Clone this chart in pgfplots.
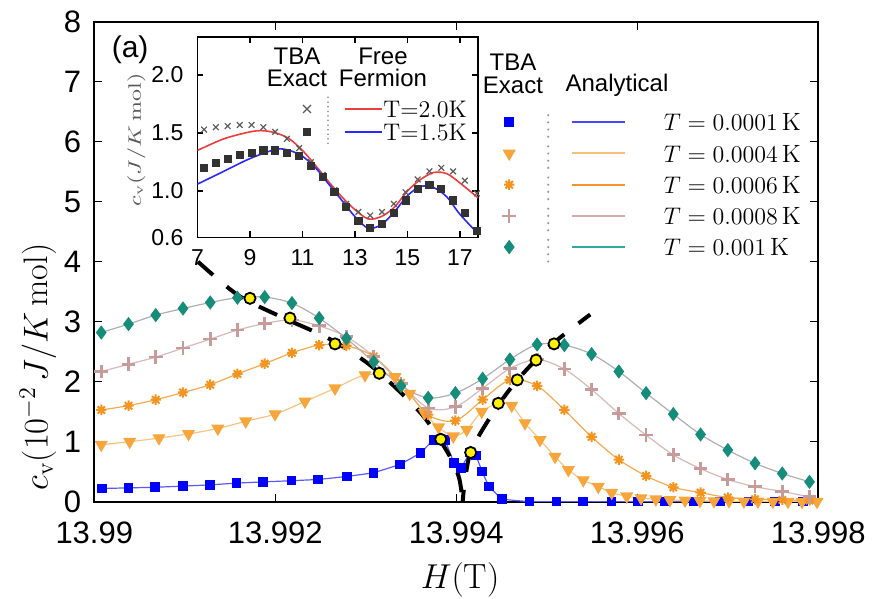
\documentclass[border=0pt]{standalone}
\usepackage{fontspec}
\setsansfont{Liberation Sans}
\usepackage{graphicx}
\usepackage{pgfplots}
\pgfplotsset{compat=1.18}

\definecolor{cblue}{RGB}{0,0,255}
\definecolor{cblueL}{RGB}{90,90,255}
\definecolor{ctri}{RGB}{247,166,60}
\definecolor{ctriL}{RGB}{250,195,130}
\definecolor{cstar}{RGB}{242,148,30}
\definecolor{cstarL}{RGB}{245,170,80}
\definecolor{cplus}{RGB}{200,155,155}
\definecolor{cplusL}{RGB}{215,185,185}
\definecolor{cteal}{RGB}{22,140,122}
\definecolor{ctealL}{RGB}{175,175,175}
\definecolor{lgblue}{RGB}{70,70,255}
\definecolor{lgtri}{RGB}{250,190,120}
\definecolor{lgstar}{RGB}{245,150,40}
\definecolor{lgplus}{RGB}{215,170,170}
\definecolor{lgteal}{RGB}{50,170,155}
\definecolor{ffred}{RGB}{240,60,60}
\definecolor{ffblue}{RGB}{40,40,255}
\definecolor{tbacross}{RGB}{90,90,90}
\definecolor{tbasq}{RGB}{50,50,50}

\pgfdeclareplotmark{xstar}{%
  \pgfpathmoveto{\pgfqpoint{-\pgfplotmarksize}{0pt}}\pgfpathlineto{\pgfqpoint{\pgfplotmarksize}{0pt}}%
  \pgfpathmoveto{\pgfqpoint{0pt}{-\pgfplotmarksize}}\pgfpathlineto{\pgfqpoint{0pt}{\pgfplotmarksize}}%
  \pgfpathmoveto{\pgfqpoint{-0.707\pgfplotmarksize}{-0.707\pgfplotmarksize}}\pgfpathlineto{\pgfqpoint{0.707\pgfplotmarksize}{0.707\pgfplotmarksize}}%
  \pgfpathmoveto{\pgfqpoint{-0.707\pgfplotmarksize}{0.707\pgfplotmarksize}}\pgfpathlineto{\pgfqpoint{0.707\pgfplotmarksize}{-0.707\pgfplotmarksize}}%
  \pgfusepathqstroke}

% legend images: #1 mark name, #2 mark style, #3 line colour
\pgfplotsset{
  mainleg/.style n args={3}{legend image code/.code={%
    \path (-4.2pt,-7.2pt) (58pt,7.2pt);
    \draw[gray!80, line width=1.2pt, line cap=round, dash pattern=on 0pt off 3.6pt] (19.5pt,-7.2pt) -- (19.5pt,7.2pt);
    \draw[#3, line width=1pt] (31.35pt,0pt) -- (58pt,0pt);
    \draw[#2, mark=#1] plot coordinates {(0pt,0pt)};}},
}

\begin{document}
\begin{tikzpicture}
% x values are (H - 13.99 T) in units of 10^-3 T
\begin{axis}[name=main, at={(0,0)}, anchor=south west, scale only axis,
  width=362pt, height=240pt, xmin=0, xmax=8, ymin=0, ymax=8,
  xtick={0,2,4,6,8}, xticklabels={13.99,13.992,13.994,13.996,13.998},
  ytick={0,1,...,8}, yticklabels={0,1,2,3,4,5,6,7,8},
  tick align=inside, major tick length=4pt,
  axis line style={line width=0.9pt}, every tick/.style={black, line width=0.7pt},
  ticklabel style={font=\sffamily\fontsize{15.5}{16}\selectfont},
  xticklabel style={yshift=-6.5pt}, yticklabel style={xshift=-3pt},
  legend style={at={(0.5604,0.8238)}, anchor=north west, draw=none, fill=none,
    inner xsep=0pt, inner ysep=0pt, row sep=0pt, column sep=18.85pt,
    nodes={inner sep=0pt, text height=8.6pt, text depth=0pt, font=\fontsize{12.5}{14}\selectfont},
    cells={anchor=west}},
]
% T = 0.0001 K
\addplot[cblueL, line width=0.6pt, mark=square*, mark size=2.1pt, mark options={cblue, solid}, forget plot] coordinates {
(0.082,0.22)(0.376,0.23)(0.671,0.24)(0.983,0.26)(1.278,0.28)(1.573,0.31)(1.867,0.33)(2.181,0.35)
(2.475,0.37)(2.789,0.42)(3.083,0.48)(3.378,0.62)(3.604,0.81)(3.746,1.03)(3.875,1.03)(3.975,0.64)
(4.052,0.56)(4.151,0.82)(4.218,0.77)(4.286,0.50)(4.361,0.25)(4.505,0.04)(4.807,0.0)(5.109,0.0)
(5.403,0.0)(5.717,0.0)(6.011,0.0)(6.306,0.0)(6.619,0.0)(6.914,0.0)(7.227,0.0)(7.522,0.0)(7.834,0.0)};
% T = 0.0004 K
\addplot[ctriL, line width=0.6pt, smooth, mark=triangle*, mark size=3.2pt, mark options={ctri, rotate=180, solid}, forget plot] coordinates {
(0.077,0.95)(0.391,1.00)(0.715,1.06)(1.041,1.13)(1.365,1.22)(1.673,1.34)(1.997,1.46)(2.328,1.67)
(2.660,1.89)(2.991,2.11)(3.323,2.08)(3.485,1.80)(3.647,1.48)(3.804,1.24)(3.967,1.09)(4.115,1.20)
(4.281,1.50)(4.464,1.64)(4.612,1.60)(4.759,1.31)(4.925,1.03)(5.091,0.75)(5.238,0.53)(5.403,0.36)
(5.569,0.25)(5.717,0.15)(5.883,0.09)(6.041,0.06)(6.205,0.04)(6.360,0.03)(6.527,0.02)(6.692,0.015)
(6.847,0.01)(7.013,0.01)(7.178,0.005)(7.333,0.005)(7.499,0.0)(7.665,0.0)(7.820,0.0)(7.986,0.0)};
% T = 0.0006 K
\addplot[cstarL, line width=0.6pt, smooth, mark=xstar, mark size=2.6pt, mark options={cstar, line width=1pt, solid}, forget plot] coordinates {
(0.077,1.53)(0.378,1.60)(0.679,1.70)(0.980,1.82)(1.281,1.95)(1.582,2.13)(1.883,2.30)(2.184,2.48)
(2.485,2.61)(2.786,2.60)(3.087,2.42)(3.388,1.98)(3.689,1.45)(3.990,1.35)(4.291,1.70)(4.592,2.03)
(4.893,1.93)(5.194,1.53)(5.495,1.08)(5.796,0.70)(6.097,0.43)(6.398,0.24)(6.699,0.15)(7.000,0.07)
(7.301,0.04)(7.602,0.03)(7.903,0.02)};
% T = 0.0008 K
\addplot[cplusL, line width=0.6pt, smooth, mark=+, mark size=3.4pt, mark options={cplus, line width=1.4pt, solid}, forget plot] coordinates {
(0.077,2.17)(0.378,2.29)(0.679,2.41)(0.980,2.56)(1.281,2.71)(1.582,2.86)(1.883,2.97)(2.184,3.03)
(2.485,2.93)(2.786,2.75)(3.087,2.42)(3.388,1.97)(3.689,1.56)(3.990,1.58)(4.291,1.89)(4.592,2.22)
(4.893,2.37)(5.194,2.21)(5.495,1.87)(5.796,1.47)(6.097,1.11)(6.398,0.78)(6.699,0.55)(7.000,0.37)
(7.301,0.25)(7.602,0.17)(7.903,0.08)};
% T = 0.001 K
\addplot[ctealL, line width=0.6pt, smooth, mark=diamond*, mark size=3.1pt, mark options={cteal, solid}, forget plot] coordinates {
(0.077,2.82)(0.378,2.96)(0.679,3.11)(0.980,3.22)(1.281,3.32)(1.582,3.40)(1.883,3.41)(2.184,3.31)
(2.485,3.06)(2.786,2.72)(3.087,2.33)(3.388,1.93)(3.689,1.73)(3.990,1.81)(4.291,2.05)(4.592,2.37)
(4.893,2.62)(5.194,2.61)(5.495,2.46)(5.796,2.17)(6.097,1.81)(6.398,1.46)(6.699,1.12)(7.000,0.86)
(7.301,0.64)(7.602,0.47)(7.903,0.33)};
% analytical divergence (dashed)
\addplot[black, line width=2pt, smooth, dash pattern=on 10pt off 9pt, forget plot] coordinates {
(1.146,4.00)(1.59,3.44)(2.08,3.07)(2.59,2.72)(3.01,2.32)(3.33,1.90)(3.65,1.40)(3.92,0.78)(4.03,0.40)(4.07,0.0)};
\addplot[black, line width=2pt, smooth, dash pattern=on 10pt off 9pt, dash phase=4pt, forget plot] coordinates {
(4.07,0.0)(4.10,0.40)(4.17,0.87)(4.41,1.49)(4.676,2.03)(5.04,2.60)(5.48,3.12)};
% crossover points
\addplot[only marks, mark=*, mark size=2.8pt, mark options={fill=yellow, draw=black, line width=0.9pt}, forget plot] coordinates {
(1.720,3.39)(2.162,3.06)(2.660,2.63)(3.149,2.14)(3.828,1.04)(4.159,0.82)(4.464,1.64)(4.674,2.03)(4.881,2.36)(5.080,2.63)};

\addlegendimage{mainleg={square*}{mark size=2.3pt, cblue}{lgblue}}
\addlegendentry{$T=0.0001\,\mathrm{K}$}
\addlegendimage{mainleg={triangle*}{mark size=3.4pt, ctri, mark options={rotate=180}}{lgtri}}
\addlegendentry{$T=0.0004\,\mathrm{K}$}
\addlegendimage{mainleg={xstar}{mark size=2.6pt, cstar, line width=1pt}{lgstar}}
\addlegendentry{$T=0.0006\,\mathrm{K}$}
\addlegendimage{mainleg={+}{mark size=3.4pt, cplus, line width=1.2pt}{lgplus}}
\addlegendentry{$T=0.0008\,\mathrm{K}$}
\addlegendimage{mainleg={diamond*}{mark size=3.3pt, cteal}{lgteal}}
\addlegendentry{$T=0.001\,\mathrm{K}$}
\end{axis}

% inset
\begin{axis}[name=inset, at={(51.6pt,132.1pt)}, anchor=south west, scale only axis,
  width=140.4pt, height=100.4pt, xmin=7, xmax=17.7, ymin=0.6, ymax=2.33,
  xtick={7,9,11,13,15,17}, xticklabels={7,9,11,13,15,17},
  ytick={0.6,1.0,1.5,2.0}, yticklabels={0.6,1.0,1.5,2.0},
  tick align=inside, major tick length=3pt,
  axis line style={line width=0.9pt}, every tick/.style={black, line width=0.6pt},
  ticklabel style={font=\sffamily\fontsize{11.5}{12}\selectfont},
  xticklabel style={yshift=-2.5pt}, yticklabel style={xshift=-3.5pt},
]
\addplot[only marks, mark=x, mark size=2pt, tbacross, line width=0.6pt] coordinates {
(7.25,1.53)(7.70,1.55)(8.15,1.56)(8.61,1.57)(9.06,1.57)(9.51,1.55)(9.96,1.51)(10.41,1.45)
(10.87,1.37)(11.32,1.25)(11.77,1.14)(12.22,1.01)(12.67,0.89)(13.13,0.82)(13.58,0.79)(14.03,0.82)
(14.48,0.89)(14.93,0.99)(15.39,1.10)(15.84,1.17)(16.29,1.20)(16.74,1.17)(17.19,1.09)(17.65,0.98)};
\addplot[only marks, mark=square*, mark size=1.8pt, tbasq] coordinates {
(7.25,1.20)(7.70,1.24)(8.15,1.28)(8.61,1.31)(9.06,1.33)(9.51,1.35)(9.96,1.35)(10.41,1.33)
(10.87,1.30)(11.32,1.22)(11.77,1.12)(12.22,0.99)(12.67,0.865)(13.13,0.74)(13.58,0.68)(14.03,0.72)
(14.48,0.81)(14.93,0.92)(15.39,1.02)(15.84,1.05)(16.29,1.02)(16.74,0.92)(17.19,0.81)(17.65,0.66)};
\addplot[ffred, line width=0.8pt, smooth] coordinates {
(7,1.35)(8,1.45)(9,1.51)(9.5,1.52)(10,1.50)(10.5,1.45)(11,1.35)(11.5,1.22)(12,1.08)(12.5,0.95)
(13,0.84)(13.5,0.76)(14,0.78)(14.5,0.86)(15,1.00)(15.5,1.10)(16,1.16)(16.5,1.15)(17,1.07)(17.7,0.94)};
\addplot[ffblue, line width=0.8pt, smooth] coordinates {
(7,1.06)(8,1.17)(9,1.28)(10,1.36)(10.5,1.35)(11,1.30)(11.5,1.20)(12,1.06)(12.5,0.92)
(13,0.78)(13.5,0.68)(14,0.71)(14.5,0.82)(15,0.96)(15.5,1.04)(16,1.03)(16.5,0.95)(17,0.80)(17.7,0.63)};
\end{axis}

% inset key
\draw[tbacross, line width=0.6pt] (104.35pt,194.35pt) -- (108.35pt,198.35pt) (104.35pt,198.35pt) -- (108.35pt,194.35pt);
\fill[tbasq] (104.55pt,183.05pt) rectangle (108.15pt,186.65pt);
\draw[gray!80, line width=1pt, line cap=round, dash pattern=on 0pt off 2.3pt] (116.85pt,179.1pt) -- (116.85pt,202.1pt);
\draw[ffred, line width=0.8pt] (125.35pt,196.35pt) -- (143.85pt,196.35pt);
\draw[ffblue, line width=0.8pt] (125.35pt,184.85pt) -- (143.85pt,184.85pt);
\node[anchor=base west, inner sep=0pt, font=\fontsize{12}{13}\selectfont] at (144.35pt,192.15pt) {$\mathrm{T}{=}2.0\mathrm{K}$};
\node[anchor=base west, inner sep=0pt, font=\fontsize{12}{13}\selectfont] at (144.35pt,180.65pt) {$\mathrm{T}{=}1.5\mathrm{K}$};

% labels and headers
\node[rotate=90, font=\fontsize{17}{20}\selectfont] at (-28.2pt,67.4pt) {$c_\mathrm{v}(10^{-2}\,J/K\,\mathrm{mol})$};
\node[font=\fontsize{17.5}{20}\selectfont] at (182.9pt,-39.2pt) {$H(\mathrm{T})$};
\node[rotate=90, text=gray!70!black, inner sep=0pt] at (21pt,180.85pt) {\scalebox{1.3}[1]{\fontsize{9}{10}\selectfont$c_\mathrm{v}(J/K\,\mathrm{mol})$}};
\node[font=\sffamily\fontsize{15}{16}\selectfont] at (17.9pt,225.85pt) {(a)};
\node[font=\sffamily\fontsize{12}{11.3}\selectfont, align=center, inner sep=0pt] at (101.35pt,217.1pt) {TBA\\Exact};
\node[font=\sffamily\fontsize{12}{11.3}\selectfont, align=center, inner sep=0pt] at (144.35pt,217.1pt) {Free\\Fermion};
\node[font=\sffamily\fontsize{12}{11.5}\selectfont, align=center, inner sep=0pt] at (209.35pt,214.1pt) {TBA\\Exact};
\node[font=\sffamily\fontsize{12}{11.5}\selectfont, inner sep=0pt] at (261.35pt,208.35pt) {Analytical};

\pgfresetboundingbox
\path (-47.15pt,-48.65pt) rectangle (390.35pt,250.85pt);
\end{tikzpicture}
\end{document}
